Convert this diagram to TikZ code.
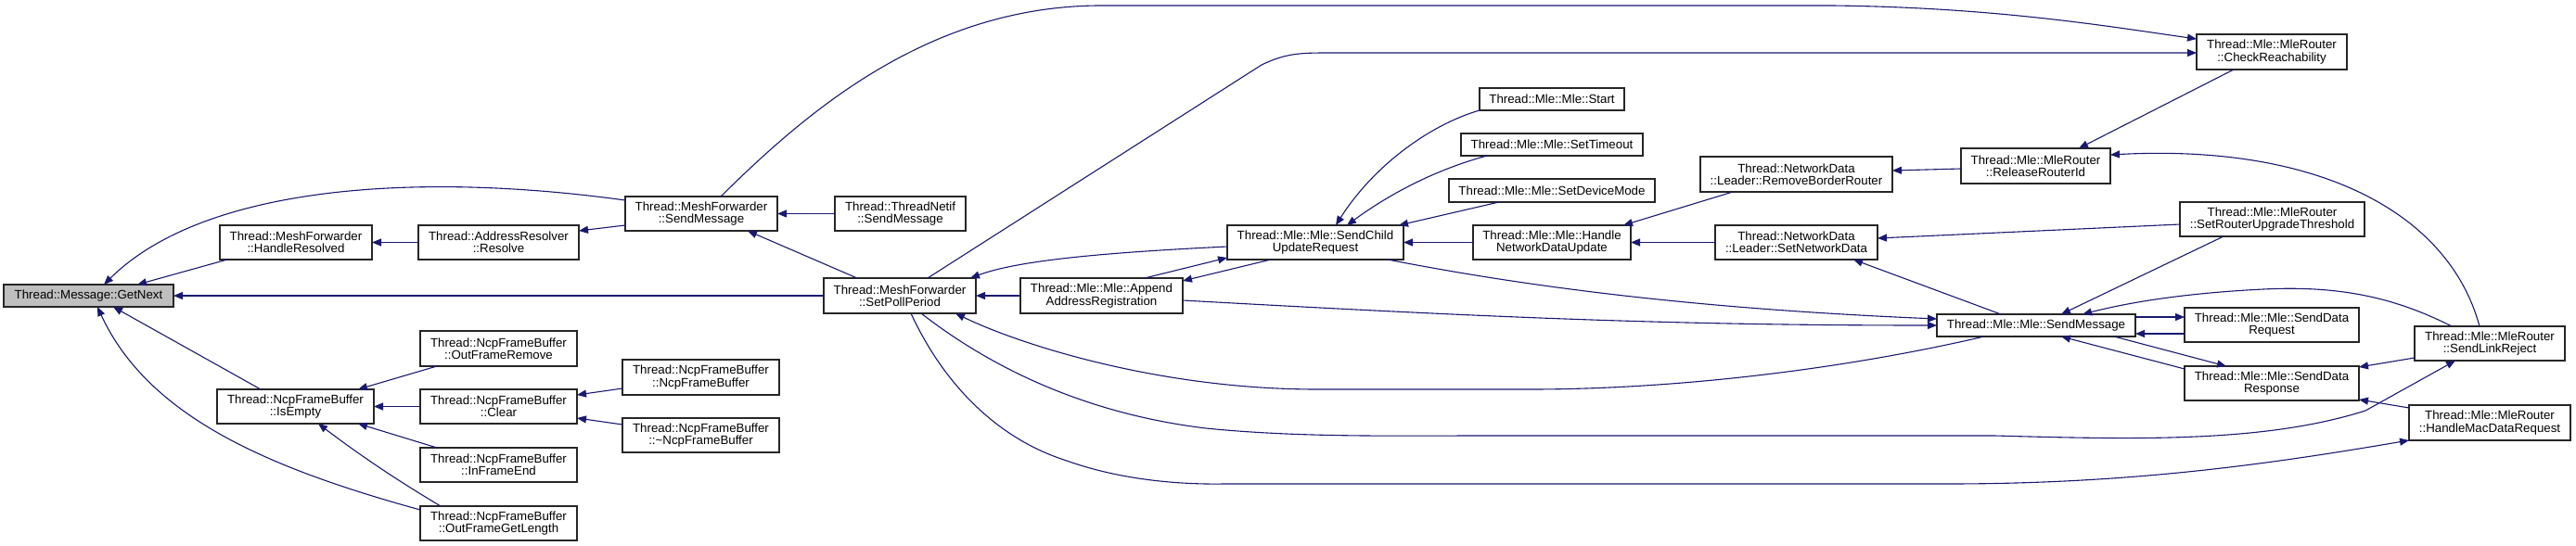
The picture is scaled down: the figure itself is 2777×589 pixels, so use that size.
\documentclass[tikz,border=0pt]{standalone}
\usepackage{fontspec}
\setmainfont{Liberation Sans}
\usetikzlibrary{arrows.meta,calc}
\definecolor{edgeblue}{RGB}{25,25,112}
\definecolor{nodegray}{RGB}{191,191,191}
\newcommand{\NP}[3]{($(#1.north west)+(#2,#3)$)}
\begin{document}
\begin{tikzpicture}[x=1pt,y=-1pt,
  box/.style={draw=black!85, line width=1.2pt, fill=white, rectangle, inner sep=0pt, outer sep=0pt,
    anchor=north west, align=center, font=\fontsize{13.3}{13.3}\selectfont},
  hl/.style={box, fill=nodegray},
  edge/.style={draw=edgeblue, line width=1.1pt, -{Triangle[length=10pt,width=8pt]}}]
\useasboundingbox (0,0) rectangle (2777,589);
% nodes
\node[hl, minimum width=183pt, minimum height=24pt] (getnext) at (4,307) {Thread::Message::GetNext};
\node[box, minimum width=164pt, minimum height=37pt] (handleresolved) at (237,243) {Thread::MeshForwarder\\::HandleResolved};
\node[box, minimum width=173pt, minimum height=37pt] (resolve) at (451,243) {Thread::AddressResolver\\::Resolve};
\node[box, minimum width=169pt, minimum height=38pt] (outframeremove) at (453,357) {Thread::NcpFrameBuffer\\::OutFrameRemove};
\node[box, minimum width=169pt, minimum height=37pt] (isempty) at (234,420) {Thread::NcpFrameBuffer\\::IsEmpty};
\node[box, minimum width=169pt, minimum height=37pt] (clear) at (453,420) {Thread::NcpFrameBuffer\\::Clear};
\node[box, minimum width=169pt, minimum height=37pt] (inframeend) at (453,483) {Thread::NcpFrameBuffer\\::InFrameEnd};
\node[box, minimum width=169pt, minimum height=37pt] (outframegetlength) at (453,546) {Thread::NcpFrameBuffer\\::OutFrameGetLength};
\node[box, minimum width=164pt, minimum height=37pt] (meshsend) at (674,212) {Thread::MeshForwarder\\::SendMessage};
\node[box, minimum width=169pt, minimum height=38pt] (ncpfb) at (671,388) {Thread::NcpFrameBuffer\\::NcpFrameBuffer};
\node[box, minimum width=169pt, minimum height=37pt] (dtor) at (671,451) {Thread::NcpFrameBuffer\\::\textasciitilde NcpFrameBuffer};
\node[box, minimum width=141pt, minimum height=37pt] (netifsend) at (900,212) {Thread::ThreadNetif\\::SendMessage};
\node[box, minimum width=164pt, minimum height=38pt] (setpoll) at (888,300) {Thread::MeshForwarder\\::SetPollPeriod};
\node[box, minimum width=175pt, minimum height=38pt] (append) at (1100,300) {Thread::Mle::Mle::Append\\AddressRegistration};
\node[box, minimum width=190pt, minimum height=37pt] (scur) at (1323,243) {Thread::Mle::Mle::SendChild\\UpdateRequest};
\node[box, minimum width=156pt, minimum height=24pt] (start) at (1595,95) {Thread::Mle::Mle::Start};
\node[box, minimum width=196pt, minimum height=24pt] (settimeout) at (1575,144) {Thread::Mle::Mle::SetTimeout};
\node[box, minimum width=222pt, minimum height=25pt] (setdevicemode) at (1562,193) {Thread::Mle::Mle::SetDeviceMode};
\node[box, minimum width=170pt, minimum height=37pt] (handlenet) at (1588,243) {Thread::Mle::Mle::Handle\\NetworkDataUpdate};
\node[box, minimum width=207pt, minimum height=38pt] (removebr) at (1833,169) {Thread::NetworkData\\::Leader::RemoveBorderRouter};
\node[box, minimum width=175pt, minimum height=37pt] (setnetdata) at (1849,243) {Thread::NetworkData\\::Leader::SetNetworkData};
\node[box, minimum width=162pt, minimum height=38pt] (checkreach) at (2368,37) {Thread::Mle::MleRouter\\::CheckReachability};
\node[box, minimum width=161pt, minimum height=38pt] (releaserid) at (2114,160) {Thread::Mle::MleRouter\\::ReleaseRouterId};
\node[box, minimum width=199pt, minimum height=37pt] (srut) at (2350,218) {Thread::Mle::MleRouter\\::SetRouterUpgradeThreshold};
\node[box, minimum width=214pt, minimum height=24pt] (mlesend) at (2088,339) {Thread::Mle::Mle::SendMessage};
\node[box, minimum width=188pt, minimum height=37pt] (sdreq) at (2355,332) {Thread::Mle::Mle::SendData\\Request};
\node[box, minimum width=188pt, minimum height=37pt] (sdresp) at (2355,395) {Thread::Mle::Mle::SendData\\Response};
\node[box, minimum width=162pt, minimum height=37pt] (linkreject) at (2603,352) {Thread::Mle::MleRouter\\::SendLinkReject};
\node[box, minimum width=174pt, minimum height=38pt] (hmdr) at (2597,437) {Thread::Mle::MleRouter\\::HandleMacDataRequest};
% edges
\draw[edge] \NP{meshsend}{0}{4} .. controls (450,185) and (220,200) .. \NP{getnext}{108}{0};
\draw[edge] \NP{handleresolved}{8}{37} -- \NP{getnext}{144}{0};
\draw[edge] (setpoll.west) -- (getnext.east);
\draw[edge] \NP{isempty}{47}{0} -- \NP{getnext}{118}{24};
\draw[edge] \NP{outframegetlength}{0}{4} .. controls (290,505) and (160,450) .. \NP{getnext}{101}{24};
\draw[edge] (resolve.west) -- (handleresolved.east);
\draw[edge] \NP{meshsend}{0}{31} -- \NP{resolve}{173}{6};
\draw[edge] (netifsend.west) -- (meshsend.east);
\draw[edge] \NP{setpoll}{36}{0} -- \NP{meshsend}{132}{37};
\draw[edge] \NP{outframeremove}{18}{38} -- \NP{isempty}{152}{0};
\draw[edge] (clear.west) -- (isempty.east);
\draw[edge] \NP{inframeend}{18}{0} -- \NP{isempty}{152}{37};
\draw[edge] \NP{outframegetlength}{22}{0} .. controls (440,525) and (400,500) .. \NP{isempty}{109}{37};
\draw[edge] \NP{ncpfb}{0}{31} -- \NP{clear}{169}{6};
\draw[edge] \NP{dtor}{0}{7} -- \NP{clear}{169}{31};
\draw[edge] \NP{scur}{0}{23} .. controls (1200,272) and (1100,280) .. \NP{setpoll}{158}{0};
\draw[edge] (append.west) -- (setpoll.east);
\draw[edge] \NP{mlesend}{51}{24} .. controls (1980,400) and (1800,420) .. (1650,420) -- (1420,420) .. controls (1250,420) and (1100,372) .. \NP{setpoll}{142}{38};
\draw[edge] \NP{setpoll}{105}{38} .. controls (1060,390) and (1160,445) .. (1300,462) .. controls (1400,472) and (1500,470) .. (1600,470) -- (2150,470) .. controls (2300,474) and (2440,478) .. (2550,443) -- \NP{linkreject}{44}{37};
\draw[edge] \NP{setpoll}{94}{38} .. controls (1020,420) and (1080,475) .. (1150,497) .. controls (1200,515) and (1260,523) .. (1320,522) -- (2100,522) .. controls (2300,522) and (2450,500) .. \NP{hmdr}{0}{38};
\draw[edge] \NP{meshsend}{103}{0} .. controls (870,120) and (1000,8) .. (1183,6) -- (1975,6) .. controls (2150,8) and (2270,28) .. \NP{checkreach}{0}{5};
\draw[edge] \NP{setpoll}{112}{0} -- (1360,70) .. controls (1385,58) and (1400,57) .. (1430,57) -- \NP{checkreach}{0}{20};
\draw[edge] \NP{checkreach}{40}{38} -- \NP{releaserid}{127}{0};
\draw[edge] \NP{linkreject}{70}{0} .. controls (2640,230) and (2500,155) .. \NP{releaserid}{161}{7};
\draw[edge] \NP{releaserid}{0}{22} -- \NP{removebr}{207}{15};
\draw[edge] \NP{removebr}{35}{38} -- \NP{handlenet}{162}{0};
\draw[edge] (setnetdata.west) -- (handlenet.east);
\draw[edge] (handlenet.west) -- (scur.east);
\draw[edge] \NP{start}{0}{24} .. controls (1540,135) and (1480,180) .. \NP{scur}{117}{0};
\draw[edge] \NP{settimeout}{28}{24} .. controls (1540,185) and (1490,215) .. \NP{scur}{129}{0};
\draw[edge] \NP{setdevicemode}{54}{25} -- \NP{scur}{185}{0};
\draw[edge] \NP{append}{134}{0} -- \NP{scur}{0}{35};
\draw[edge] \NP{scur}{47}{37} -- \NP{append}{175}{3};
\draw[edge] \NP{append}{175}{24} .. controls (1600,342) and (1800,351) .. \NP{mlesend}{0}{12};
\draw[edge] \NP{scur}{173}{37} .. controls (1700,320) and (1900,336) .. \NP{mlesend}{0}{5};
\draw[edge] \NP{mlesend}{69}{0} -- \NP{setnetdata}{149}{37};
\draw[edge] \NP{srut}{0}{24} -- \NP{setnetdata}{175}{14};
\draw[edge] \NP{srut}{47}{37} -- \NP{mlesend}{134}{0};
\draw[edge] \NP{linkreject}{40}{0} .. controls (2580,320) and (2520,308) .. (2440,312) .. controls (2360,316) and (2300,325) .. \NP{mlesend}{157}{0};
\draw[edge] \NP{mlesend}{214}{3} -- \NP{sdreq}{0}{10};
\draw[edge] \NP{sdreq}{0}{28} -- \NP{mlesend}{214}{21};
\draw[edge] \NP{mlesend}{191}{24} -- \NP{sdresp}{45}{0};
\draw[edge] \NP{sdresp}{0}{3} -- \NP{mlesend}{134}{24};
\draw[edge] \NP{linkreject}{0}{34} -- \NP{sdresp}{188}{1};
\draw[edge] \NP{hmdr}{0}{3} -- \NP{sdresp}{188}{36};
\end{tikzpicture}
\end{document}
